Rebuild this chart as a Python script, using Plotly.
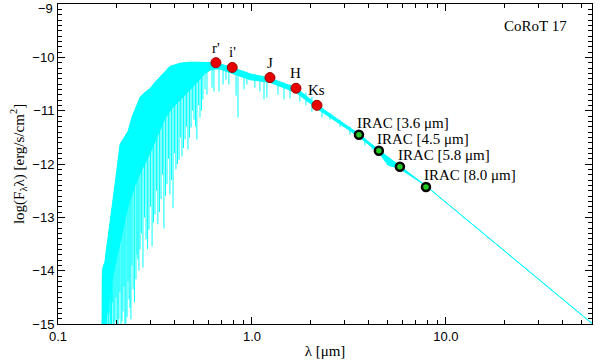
import numpy as np
import plotly.graph_objects as go

# photometry (wavelength in micron, log flux)
phot_names = ["r'", "i'", "J", "H", "Ks"]
phot_wl = [0.652, 0.791, 1.238, 1.686, 2.163]
phot_flux = [-10.10, -10.19, -10.38, -10.58, -10.90]

irac_names = ["IRAC [3.6 &#956;m]", "IRAC [4.5 &#956;m]", "IRAC [5.8 &#956;m]", "IRAC [8.0 &#956;m]"]
irac_wl = [3.56, 4.51, 5.79, 7.89]
irac_flux = [-11.45, -11.75, -12.05, -12.43]

y_ticks = [-15, -14, -13, -12, -11, -10, -9]

# model spectrum, upper edge and lower edge of the dense part (log wavelength, log flux)
spec_top_logwl = [-0.773, -0.771, -0.758, -0.742, -0.727, -0.711, -0.696, -0.680, -0.660, -0.639,
                  -0.619, -0.598, -0.577, -0.552, -0.526, -0.500, -0.474, -0.448, -0.423, -0.397,
                  -0.371, -0.320, -0.268, -0.216, -0.186, -0.103, -0.010, 0.093, 0.227, 0.335,
                  0.552, 0.655, 0.763, 0.897, 1.753]
spec_top_flux = [-15.3, -13.98, -13.83, -13.41, -12.94, -12.57, -12.10, -11.63, -11.50, -11.39,
                 -11.13, -10.94, -10.75, -10.66, -10.59, -10.47, -10.36, -10.27, -10.17, -10.14,
                 -10.11, -10.09, -10.09, -10.10, -10.10, -10.19, -10.31, -10.39, -10.57, -10.89,
                 -11.44, -11.74, -12.04, -12.41, -14.99]
spec_low_logwl = [-0.773, -0.755, -0.727, -0.706, -0.670, -0.639, -0.603, -0.567, -0.526, -0.485,
                  -0.449, -0.412, -0.371, -0.320, -0.278, -0.242, -0.206, -0.165, -0.088, -0.010,
                  0.093, 0.227, 0.335, 0.552, 0.655, 0.701, 0.763, 0.897, 1.753]
spec_low_flux = [-15.3, -15.0, -14.3, -13.9, -13.3, -12.8, -12.4, -12.1, -11.8, -11.45,
                 -11.15, -10.95, -10.8, -10.6, -10.45, -10.3, -10.22, -10.22, -10.32, -10.42,
                 -10.47, -10.66, -10.96, -11.49, -11.79, -12.02, -12.09, -12.41, -14.99]

# absorption lines (log wavelength, flux at top, flux at bottom of the line)
line_logwl = [-0.771, -0.767, -0.763, -0.755, -0.751, -0.747, -0.740, -0.736, -0.732, -0.728,
              -0.724, -0.720, -0.716, -0.711, -0.706, -0.701, -0.696, -0.691, -0.686, -0.681,
              -0.675, -0.670, -0.665, -0.660, -0.655, -0.650, -0.644, -0.639, -0.634, -0.629,
              -0.624, -0.619, -0.613, -0.606, -0.598, -0.593, -0.588, -0.583, -0.577, -0.570,
              -0.562, -0.554, -0.546, -0.538, -0.531, -0.523, -0.515, -0.508, -0.500, -0.492,
              -0.485, -0.477, -0.469, -0.461, -0.454, -0.446, -0.438, -0.430, -0.423, -0.415,
              -0.407, -0.400, -0.392, -0.384, -0.376, -0.369, -0.361, -0.353, -0.345, -0.338,
              -0.330, -0.322, -0.314, -0.306, -0.299, -0.291, -0.284, -0.276, -0.268, -0.260,
              -0.253, -0.242, -0.232, -0.206, -0.196, -0.170, -0.149, -0.134, -0.119, -0.082,
              -0.072, -0.041, -0.026, 0.015, 0.041, 0.062, 0.077, 0.134, 0.165, 0.196,
              0.247, 0.278, 0.309, 0.361, 0.402, 0.454, 0.505, 0.582, 0.619]
line_top = [-14.07, -13.95, -13.88, -13.75, -13.60, -13.51, -13.41, -13.25, -13.13, -13.05,
            -12.95, -12.85, -12.76, -12.60, -12.48, -12.35, -12.20, -12.05, -11.92, -11.80,
            -11.63, -11.60, -11.54, -11.52, -11.49, -11.45, -11.41, -11.39, -11.35, -11.30,
            -11.20, -11.13, -11.07, -11.00, -10.94, -10.90, -10.87, -10.80, -10.75, -10.72,
            -10.70, -10.66, -10.64, -10.62, -10.60, -10.58, -10.57, -10.52, -10.47, -10.44,
            -10.42, -10.38, -10.34, -10.31, -10.29, -10.26, -10.23, -10.20, -10.17, -10.17,
            -10.16, -10.15, -10.14, -10.13, -10.12, -10.11, -10.11, -10.10, -10.10, -10.09,
            -10.09, -10.09, -10.09, -10.09, -10.09, -10.09, -10.09, -10.09, -10.09, -10.09,
            -10.09, -10.09, -10.10, -10.10, -10.10, -10.12, -10.14, -10.16, -10.17, -10.21,
            -10.23, -10.25, -10.27, -10.32, -10.34, -10.36, -10.38, -10.44, -10.47, -10.51,
            -10.60, -10.66, -10.75, -10.94, -11.04, -11.17, -11.30, -11.52, -11.63]
line_bottom = [-15.3, -15.3, -15.3, -14.72, -15.3, -15.3, -15.3, -14.80, -15.3, -15.3,
               -15.3, -14.60, -15.3, -15.3, -14.95, -14.50, -15.3, -15.3, -14.91, -14.40,
               -15.3, -14.95, -14.76, -14.30, -15.3, -14.99, -14.87, -14.20, -14.54, -14.70,
               -14.91, -13.90, -14.35, -14.60, -14.16, -13.70, -13.79, -14.00, -13.60, -13.30,
               -13.94, -13.00, -13.41, -13.60, -13.23, -12.80, -13.54, -13.10, -12.95, -12.50,
               -13.13, -12.90, -12.66, -12.20, -13.21, -12.60, -12.38, -11.90, -12.57, -12.30,
               -12.83, -11.80, -12.10, -12.00, -11.92, -11.50, -11.86, -11.70, -11.54, -11.30,
               -11.73, -11.50, -11.32, -11.00, -11.17, -11.30, -11.54, -10.90, -11.13, -11.00,
               -10.79, -10.60, -10.70, -10.57, -10.64, -10.64, -10.51, -10.42, -10.51, -10.72,
               -11.13, -10.60, -10.51, -10.57, -10.64, -10.79, -10.75, -10.70, -10.79, -10.77,
               -10.83, -10.90, -11.02, -11.13, -11.17, -11.30, -11.45, -11.65, -11.73]

cyan = "#00ffff"
serif = "Liberation Serif"
sans = "Liberation Sans"

poly_x = list(10 ** np.array(spec_top_logwl)) + list(10 ** np.array(spec_low_logwl[::-1]))
poly_y = spec_top_flux + spec_low_flux[::-1]

lx, ly = [], []
for w, t, b in zip(line_logwl, line_top, line_bottom):
    lx += [10 ** w, 10 ** w, None]
    ly += [t, b, None]

fig = go.Figure()
fig.add_trace(go.Scatter(x=poly_x, y=poly_y, mode="lines", fill="toself", fillcolor=cyan,
                         line=dict(color=cyan, width=1), hoverinfo="skip"))
fig.add_trace(go.Scatter(x=lx, y=ly, mode="lines", line=dict(color=cyan, width=1), hoverinfo="skip"))
fig.add_trace(go.Scatter(x=phot_wl, y=phot_flux, mode="markers",
                         marker=dict(size=10, color="#e60000", line=dict(color="#a00000", width=1))))
fig.add_trace(go.Scatter(x=irac_wl, y=irac_flux, mode="markers",
                         marker=dict(size=8, color="#22cc22", line=dict(color="black", width=2.5))))

for name, w, f in zip(phot_names, phot_wl, phot_flux):
    fig.add_annotation(x=np.log10(w), y=f, text=name, showarrow=False, yshift=15,
                       font=dict(family=serif, size=15, color="black"))
for name, w, f in zip(irac_names, irac_wl, irac_flux):
    fig.add_annotation(x=np.log10(w), y=f, text=name, showarrow=False, xanchor="left",
                       xshift=-4, yshift=12, font=dict(family=serif, size=15, color="black"))

fig.add_annotation(x=0.957, y=0.93, xref="paper", yref="paper", text="CoRoT 17", showarrow=False,
                   xanchor="right", yanchor="middle", font=dict(family=serif, size=15, color="black"))

# top tick label sits a little lower so it stays inside the page
y_labels = ["\u2212" + str(-v) for v in y_ticks]
fig.add_annotation(x=0, xref="paper", y=y_ticks[-1], yref="y", text=y_labels[-1], showarrow=False,
                   xanchor="right", yanchor="middle", xshift=-3, yshift=-4,
                   font=dict(family=sans, size=13, color="black"))

minor_x = [0.2, 0.3, 0.4, 0.5, 0.6, 0.7, 0.8, 0.9, 2, 3, 4, 5, 6, 7, 8, 9, 20, 30, 40, 50]
fig.update_xaxes(type="log", range=[-1, 1.753], tickvals=[0.1, 1, 10], ticktext=["0.1", "1.0", "10.0"],
                 ticks="inside", ticklen=7, tickcolor="black", showline=True, linecolor="black",
                 linewidth=1, mirror="allticks", showgrid=False, zeroline=False, automargin=False,
                 minor=dict(tickvals=minor_x, ticks="inside", ticklen=4, tickcolor="black", showgrid=False),
                 title=dict(text="λ [μm]", font=dict(family=serif, size=15, color="black"), standoff=2),
                 tickfont=dict(family=sans, size=13, color="black"))
fig.update_yaxes(range=[-15, -9], tickvals=y_ticks, ticktext=y_labels[:-1] + [""],
                 ticks="inside", ticklen=7, tickcolor="black",
                 showline=True, linecolor="black", linewidth=1, mirror="allticks",
                 showgrid=False, zeroline=False, automargin=False,
                 minor=dict(dtick=0.1, ticks="inside", ticklen=4, tickcolor="black", showgrid=False),
                 title=dict(text="log(F<sub>λ</sub>λ) [erg/s/cm<sup>2</sup>]",
                            font=dict(family=serif, size=15, color="black"), standoff=4),
                 tickfont=dict(family=sans, size=13, color="black"))

fig.update_layout(width=600, height=364, margin=dict(l=58, r=8, t=4, b=40),
                  plot_bgcolor="white", paper_bgcolor="white", showlegend=False)

fig.write_html("out.html", config={"displayModeBar": False},
               post_script="document.body.style.margin='0';")
